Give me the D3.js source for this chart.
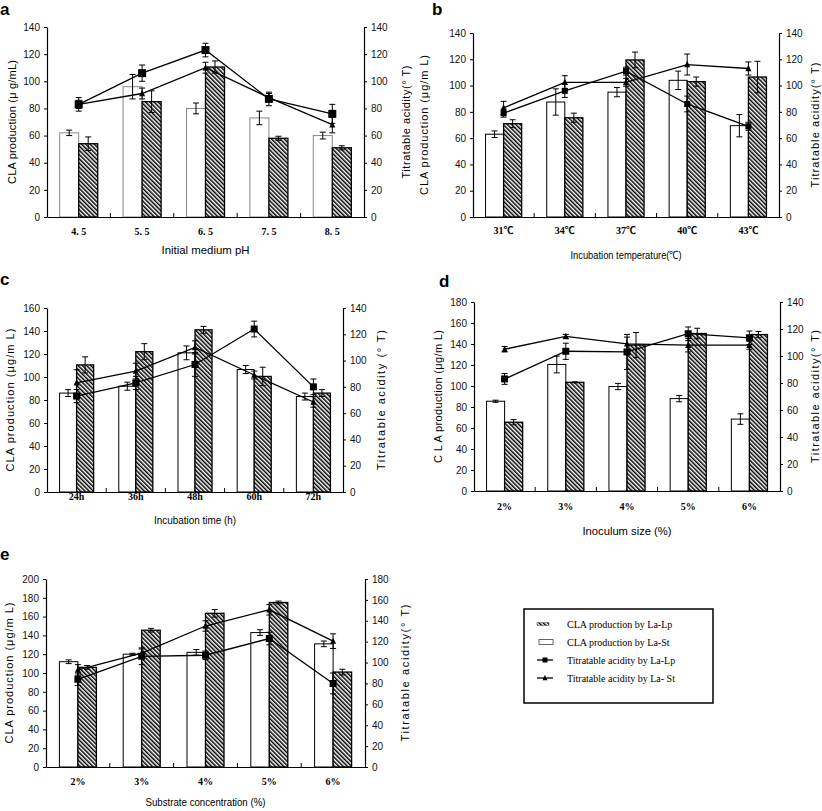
<!DOCTYPE html>
<html>
<head>
<meta charset="utf-8">
<script src="https://cdn.jsdelivr.net/npm/d3@7"></script>
<style>
  body { margin: 0; background: #fff; }
  svg { display: block; }
</style>
</head>
<body>
<div id="chart"></div>
<script>
// ---- data ----
// (a) initial medium pH
const catsA = ["4. 5", "5. 5", "6. 5", "7. 5", "8. 5"]
const stClaA = [62, 96, 80, 73, 60]
const stClaErrA = [2, 9, 4, 5, 2.5]
const lpClaA = [54, 85, 110.5, 58, 51]
const lpClaErrA = [5, 8, 4.5, 1.5, 1.5]
const lpAcidA = [83, 106, 123, 87, 76]
const lpAcidErrA = [5, 6, 5, 5, 7]
const stAcidA = [83, 91, 110, 88, 68]
const stAcidErrA = [3, 4, 4, 3, 6]

// (b) incubation temperature
const catsB = ["31℃", "34℃", "37℃", "40℃", "43℃"]
const stClaB = [63, 87.5, 95, 104, 69.5]
const stClaErrB = [2.5, 10, 3.5, 7, 8.5]
const lpClaB = [71, 75.5, 119.5, 103, 106.5]
const lpClaErrB = [3, 3.5, 6, 3.5, 12]
const lpAcidB = [79, 96, 111, 86, 69]
const lpAcidErrB = [3, 5, 3, 6, 3]
const stAcidB = [83, 102.5, 102.5, 116, 113]
const stAcidErrB = [5, 5, 3, 8, 5]

// (c) incubation time
const catsC = ["24h", "36h", "48h", "60h", "72h"]
const stClaC = [86, 92, 121, 106.5, 83]
const stClaErrC = [3, 3.5, 6, 3.5, 3]
const lpClaC = [110.5, 122, 141, 100.5, 86]
const lpClaErrC = [7, 7, 3, 8, 3]
const lpAcidC = [73, 83, 97, 124, 80]
const lpAcidErrC = [5, 5, 9, 6, 6]
const stAcidC = [83, 92, 110, 89, 68.5]
const stAcidErrC = [10, 6, 5, 3, 4]

// (d) inoculum size
const catsD = ["2%", "3%", "4%", "5%", "6%"]
const stClaD = [85.5, 120.5, 99.5, 88, 68.5]
const stClaErrD = [1, 8, 3, 3, 5]
const lpClaD = [65.5, 103.5, 139, 150, 149]
const lpClaErrD = [2.5, 0.5, 12, 5, 3]
const lpAcidD = [83, 103.5, 103, 116.5, 113.5]
const lpAcidErrD = [4, 6, 13, 5, 5]
const stAcidD = [105, 114.5, 109, 108, 108]
const stAcidErrD = [2, 1.5, 5, 5, 3]

// (e) substrate concentration
const catsE = ["2%", "3%", "4%", "5%", "6%"]
const stClaE = [112, 120, 122, 143, 131]
const stClaErrE = [2, 1, 3, 3, 3]
const lpClaE = [106, 145.5, 163.5, 175, 101]
const lpClaErrE = [2, 2, 4, 1.5, 3]
const lpAcidE = [84, 106, 107, 123, 80]
const lpAcidErrE = [6, 8, 4, 6, 10]
const stAcidE = [93, 109, 135, 150.5, 120.5]
const stAcidErrE = [5, 4, 5, 5, 7]

const legendLabels = [
  "CLA production by La-Lp",
  "CLA production by La-St",
  "Titratable acidity by La-Lp",
  "Titratable acidity by La- St"
]

// ---- layout ----
const panels = [
  { tag: "a", tagX: 0, tagY: 15, x0: 47, x1: 364, y0: 217, y1: 27, leftMax: 140, rightMax: 140, group: 0.6,
    cats: catsA, stCla: stClaA, stClaErr: stClaErrA, lpCla: lpClaA, lpClaErr: lpClaErrA,
    lpAcid: lpAcidA, lpAcidErr: lpAcidErrA, stAcid: stAcidA, stAcidErr: stAcidErrA,
    xTitle: "Initial medium pH", yTitle: "CLA production (μ g/mL)", rTitle: "Titratable acidity(° T)",
    labelDy: 18, xTitleY: 254, yTitleX: 12, rTitleX: 406, whiteStroke: "#888", sq: 8,
    xLen: 88, yLen: 124, rLen: 113 },
  { tag: "b", tagX: 432, tagY: 15, x0: 473, x1: 779, y0: 217, y1: 33, leftMax: 140, rightMax: 140, group: 0.59,
    cats: catsB, stCla: stClaB, stClaErr: stClaErrB, lpCla: lpClaB, lpClaErr: lpClaErrB,
    lpAcid: lpAcidB, lpAcidErr: lpAcidErrB, stAcid: stAcidB, stAcidErr: stAcidErrB,
    xTitle: "Incubation temperature(℃)", yTitle: "CLA production   (μg/m L)", rTitle: "Titratable acidity(° T)",
    labelDy: 17, xTitleY: 259, yTitleX: 424, rTitleX: 815, whiteStroke: "#000", sq: 6,
    xLen: 111, yLen: 140, rLen: 125 },
  { tag: "c", tagX: 0, tagY: 285, x0: 47, x1: 343, y0: 492, y1: 308, leftMax: 160, rightMax: 140, group: 0.575,
    cats: catsC, stCla: stClaC, stClaErr: stClaErrC, lpCla: lpClaC, lpClaErr: lpClaErrC,
    lpAcid: lpAcidC, lpAcidErr: lpAcidErrC, stAcid: stAcidC, stAcidErr: stAcidErrC,
    xTitle: "Incubation time (h)", yTitle: "CLA production (μg/m L)", rTitle: "Titratable acidity (° T)",
    labelDy: 8, xTitleY: 524, yTitleX: 10, rTitleX: 381, whiteStroke: "#000", sq: 7,
    xLen: 82, yLen: 143, rLen: 140 },
  { tag: "d", tagX: 439, tagY: 287, x0: 474, x1: 780, y0: 491, y1: 302, leftMax: 180, rightMax: 140, group: 0.59,
    cats: catsD, stCla: stClaD, stClaErr: stClaErrD, lpCla: lpClaD, lpClaErr: lpClaErrD,
    lpAcid: lpAcidD, lpAcidErr: lpAcidErrD, stAcid: stAcidD, stAcidErr: stAcidErrD,
    xTitle: "Inoculum size (%)", yTitle: "C L A production (μg/m L)", rTitle: "Titratable acidity(° T)",
    labelDy: 19, xTitleY: 535, yTitleX: 438, rTitleX: 815, whiteStroke: "#000", sq: 7,
    xLen: 89, yLen: 133, rLen: 133 },
  { tag: "e", tagX: 0, tagY: 560, x0: 46, x1: 365, y0: 767, y1: 579, leftMax: 200, rightMax: 180, group: 0.58,
    cats: catsE, stCla: stClaE, stClaErr: stClaErrE, lpCla: lpClaE, lpClaErr: lpClaErrE,
    lpAcid: lpAcidE, lpAcidErr: lpAcidErrE, stAcid: stAcidE, stAcidErr: stAcidErrE,
    xTitle: "Substrate concentration (%)", yTitle: "CLA production (μg/m L)", rTitle: "Titratable acidity(° T)",
    labelDy: 18, xTitleY: 806, yTitleX: 9, rTitleX: 405, whiteStroke: "#000", sq: 7,
    xLen: 120, yLen: 141, rLen: 137 }
]

const sans = "'Liberation Sans', Arial, sans-serif"
const serif = "'Liberation Serif', 'Times New Roman', 'Noto Sans CJK SC', serif"

const svg = d3.select("#chart").append("svg")
  .attr("width", 822)
  .attr("height", 811)

const defs = svg.append("defs")
const pat = defs.append("pattern")
  .attr("id", "hatch")
  .attr("patternUnits", "userSpaceOnUse")
  .attr("width", 3)
  .attr("height", 3)
  .attr("patternTransform", "rotate(-45)")
pat.append("rect").attr("width", 3).attr("height", 3).attr("fill", "#fff")
pat.append("rect").attr("width", 1.5).attr("height", 3).attr("fill", "#000")

function errorBar(g, cx, yTop, yBot, cap) {
  g.append("line").attr("x1", cx).attr("x2", cx).attr("y1", yTop).attr("y2", yBot)
    .attr("stroke", "#000").attr("stroke-width", 1)
  g.append("line").attr("x1", cx - cap).attr("x2", cx + cap).attr("y1", yTop).attr("y2", yTop)
    .attr("stroke", "#000").attr("stroke-width", 1)
  g.append("line").attr("x1", cx - cap).attr("x2", cx + cap).attr("y1", yBot).attr("y2", yBot)
    .attr("stroke", "#000").attr("stroke-width", 1)
}

function triangle(g, cx, cy, s) {
  const h = s * 0.9
  g.append("path")
    .attr("d", `M${cx},${cy - h / 2 - 1}L${cx + s / 2},${cy + h / 2}L${cx - s / 2},${cy + h / 2}Z`)
    .attr("fill", "#000")
}

function drawPanel(p) {
  const g = svg.append("g")
  const x = d3.scaleBand().domain(p.cats).range([p.x0, p.x1])
  const yL = d3.scaleLinear().domain([0, p.leftMax]).range([p.y0, p.y1])
  const yR = d3.scaleLinear().domain([0, p.rightMax]).range([p.y0, p.y1])
  const bw = x.bandwidth() * p.group / 2
  const center = (c) => x(c) + x.bandwidth() / 2

  // bars: white (La-St) left, hatched (La-Lp) right
  g.selectAll(".st").data(p.cats).enter().append("rect")
    .attr("x", (c) => center(c) - bw)
    .attr("y", (c, i) => yL(p.stCla[i]))
    .attr("width", bw)
    .attr("height", (c, i) => p.y0 - yL(p.stCla[i]))
    .attr("fill", "#fff")
    .attr("stroke", p.whiteStroke)
    .attr("stroke-width", 1)
  g.selectAll(".lp").data(p.cats).enter().append("rect")
    .attr("x", (c) => center(c))
    .attr("y", (c, i) => yL(p.lpCla[i]))
    .attr("width", bw)
    .attr("height", (c, i) => p.y0 - yL(p.lpCla[i]))
    .attr("fill", "url(#hatch)")
    .attr("stroke", "#000")
    .attr("stroke-width", 1.3)

  p.cats.forEach((c, i) => {
    const cx1 = center(c) - bw / 2
    errorBar(g, cx1, yL(p.stCla[i] + p.stClaErr[i]), yL(p.stCla[i] - p.stClaErr[i]), 3)
    const cx2 = center(c) + bw / 2
    errorBar(g, cx2, yL(p.lpCla[i] + p.lpClaErr[i]), yL(p.lpCla[i] - p.lpClaErr[i]), 3)
  })

  // x axis
  const xAxis = g.append("g")
    .attr("transform", `translate(0,${p.y0})`)
    .call(d3.axisBottom(x).tickSize(0).tickPadding(p.labelDy - 7))
  xAxis.select(".domain").attr("stroke", "#000").attr("stroke-width", 1.2)
  xAxis.selectAll("text")
    .attr("font-family", serif)
    .attr("font-weight", "bold")
    .attr("font-size", 10)
    .attr("fill", "#000")
  g.selectAll(".xt").data(p.cats.slice(1)).enter().append("line")
    .attr("x1", (c) => x(c)).attr("x2", (c) => x(c))
    .attr("y1", p.y0).attr("y2", p.y0 - 4)
    .attr("stroke", "#000")

  // left and right axes
  const ticksL = d3.range(0, p.leftMax + 1, 20)
  const ticksR = d3.range(0, p.rightMax + 1, 20)
  const left = g.append("g")
    .attr("transform", `translate(${p.x0},0)`)
    .call(d3.axisLeft(yL).tickValues(ticksL).tickSize(3).tickSizeOuter(0).tickPadding(4).tickFormat(d3.format("d")))
  const right = g.append("g")
    .attr("transform", `translate(${p.x1},0)`)
    .call(d3.axisRight(yR).tickValues(ticksR).tickSize(3).tickSizeOuter(0).tickPadding(4).tickFormat(d3.format("d")))
  ;[left, right].forEach((a) => {
    a.select(".domain").attr("stroke", "#000").attr("stroke-width", 1.2)
    a.selectAll(".tick line").attr("stroke", "#000")
    a.selectAll("text").attr("font-family", sans).attr("font-size", 10).attr("fill", "#111")
  })

  // acidity lines
  const line = d3.line()
    .x((d) => center(d.c))
    .y((d) => yR(d.v))
  const stPts = p.cats.map((c, i) => ({ c, v: p.stAcid[i], e: p.stAcidErr[i] }))
  const lpPts = p.cats.map((c, i) => ({ c, v: p.lpAcid[i], e: p.lpAcidErr[i] }))
  g.append("path").datum(stPts).attr("d", line)
    .attr("fill", "none").attr("stroke", "#000").attr("stroke-width", 1.3)
  g.append("path").datum(lpPts).attr("d", line)
    .attr("fill", "none").attr("stroke", "#000").attr("stroke-width", 1.3)

  stPts.forEach((d) => {
    errorBar(g, center(d.c), yR(d.v + d.e), yR(d.v - d.e), 3)
    triangle(g, center(d.c), yR(d.v), 6)
  })
  lpPts.forEach((d) => {
    errorBar(g, center(d.c), yR(d.v + d.e), yR(d.v - d.e), 3)
    g.append("rect")
      .attr("x", center(d.c) - p.sq / 2)
      .attr("y", yR(d.v) - p.sq / 2)
      .attr("width", p.sq)
      .attr("height", p.sq)
      .attr("fill", "#000")
  })

  // titles
  g.append("text")
    .attr("x", (p.x0 + p.x1) / 2)
    .attr("y", p.xTitleY)
    .attr("text-anchor", "middle")
    .attr("font-family", sans)
    .attr("font-size", 11.5)
    .attr("textLength", p.xLen)
    .attr("lengthAdjust", "spacingAndGlyphs")
    .text(p.xTitle)
  g.append("text")
    .attr("transform", `translate(${p.yTitleX},${(p.y0 + p.y1) / 2}) rotate(-90)`)
    .attr("text-anchor", "middle")
    .attr("dy", "0.35em")
    .attr("font-family", sans)
    .attr("font-size", 11)
    .attr("textLength", p.yLen)
    .attr("lengthAdjust", "spacing")
    .text(p.yTitle)
  g.append("text")
    .attr("transform", `translate(${p.rTitleX},${(p.y0 + p.y1) / 2}) rotate(-90)`)
    .attr("text-anchor", "middle")
    .attr("dy", "0.35em")
    .attr("font-family", sans)
    .attr("font-size", 11)
    .attr("textLength", p.rLen)
    .attr("lengthAdjust", "spacing")
    .text(p.rTitle)

  g.append("text")
    .attr("x", p.tagX)
    .attr("y", p.tagY)
    .attr("font-family", sans)
    .attr("font-weight", "bold")
    .attr("font-size", 17)
    .text(p.tag)
}

panels.forEach(drawPanel)

// legend
const lg = svg.append("g")
lg.append("rect")
  .attr("x", 524).attr("y", 609).attr("width", 189).attr("height", 94)
  .attr("fill", "#fff").attr("stroke", "#000").attr("stroke-width", 1.5)
const rowY = d3.scalePoint().domain(legendLabels).range([624, 678])
lg.selectAll(".lt").data(legendLabels).enter().append("text")
  .attr("x", 567)
  .attr("y", (d) => rowY(d))
  .attr("dy", "0.35em")
  .attr("font-family", serif)
  .attr("font-size", 10)
  .text((d) => d)
lg.append("rect")
  .attr("x", 537).attr("y", rowY(legendLabels[0]) - 1.5).attr("width", 12).attr("height", 3)
  .attr("fill", "url(#hatch)").attr("stroke", "#555").attr("stroke-width", 0.5)
lg.append("rect")
  .attr("x", 539).attr("y", rowY(legendLabels[1]) - 2.5).attr("width", 14).attr("height", 5)
  .attr("fill", "#fff").attr("stroke", "#444").attr("stroke-width", 0.8)
lg.append("line")
  .attr("x1", 537).attr("x2", 553).attr("y1", rowY(legendLabels[2])).attr("y2", rowY(legendLabels[2]))
  .attr("stroke", "#000").attr("stroke-width", 1.3)
lg.append("rect")
  .attr("x", 542.5).attr("y", rowY(legendLabels[2]) - 2.5).attr("width", 5).attr("height", 5)
  .attr("fill", "#000")
lg.append("line")
  .attr("x1", 537).attr("x2", 553).attr("y1", rowY(legendLabels[3])).attr("y2", rowY(legendLabels[3]))
  .attr("stroke", "#000").attr("stroke-width", 1.3)
triangle(lg, 545, rowY(legendLabels[3]), 5)
</script>
</body>
</html>
